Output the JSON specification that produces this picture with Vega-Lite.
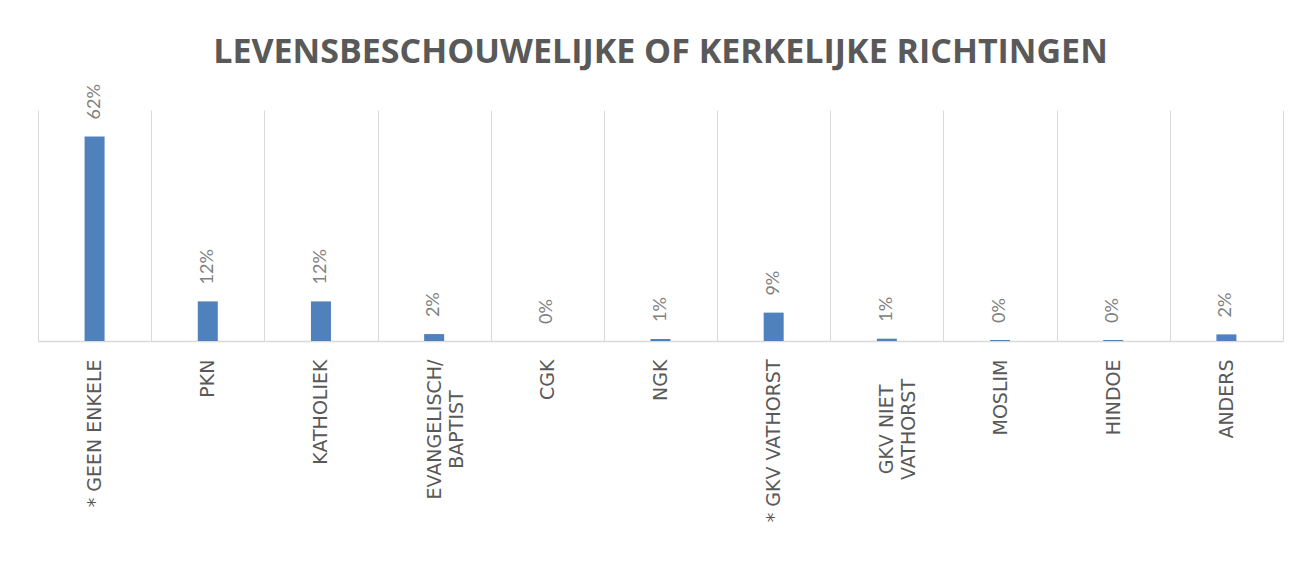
{
  "$schema": "https://vega.github.io/schema/vega-lite/v6.json",
  "width": 1245,
  "height": 231,
  "autosize": {"type": "none"},
  "padding": {"left": 38, "top": 110, "right": 15, "bottom": 223},
  "background": "white",
  "title": {
    "text": "LEVENSBESCHOUWELIJKE OF KERKELIJKE RICHTINGEN",
    "font": "Open Sans",
    "fontSize": 34,
    "fontWeight": "bold",
    "color": "#595959",
    "anchor": "middle",
    "frame": "group",
    "offset": 14
  },
  "config": {"view": {"stroke": null}},
  "data": {
    "values": [
      {"richting": "* GEEN ENKELE", "aandeel": 0.62},
      {"richting": "PKN", "aandeel": 0.12},
      {"richting": "KATHOLIEK", "aandeel": 0.12},
      {"richting": "EVANGELISCH/ BAPTIST", "aandeel": 0.021},
      {"richting": "CGK", "aandeel": 0.0},
      {"richting": "NGK", "aandeel": 0.006},
      {"richting": "* GKV VATHORST", "aandeel": 0.086},
      {"richting": "GKV NIET VATHORST", "aandeel": 0.007},
      {"richting": "MOSLIM", "aandeel": 0.003},
      {"richting": "HINDOE", "aandeel": 0.003},
      {"richting": "ANDERS", "aandeel": 0.02}
    ]
  },
  "encoding": {
    "x": {
      "field": "richting",
      "type": "nominal",
      "sort": null,
      "scale": {"paddingInner": 0, "paddingOuter": 0},
      "axis": {
        "title": null,
        "labelAngle": -90,
        "labelFont": "DejaVu Sans",
        "labelFontSize": 19,
        "labelColor": "#595959",
        "labelLineHeight": 22,
        "labelLimit": 400,
        "labelOverlap": false,
        "labelExpr": "datum.value == 'EVANGELISCH/ BAPTIST' ? ['EVANGELISCH/', 'BAPTIST'] : datum.value == 'GKV NIET VATHORST' ? ['GKV NIET', 'VATHORST'] : datum.value",
        "labelAlign": {"condition": {"test": "datum.value == 'EVANGELISCH/ BAPTIST' || datum.value == 'GKV NIET VATHORST'", "value": "center"}, "value": "right"},
        "labelPadding": {"condition": {"test": "datum.value == 'EVANGELISCH/ BAPTIST' || datum.value == 'GKV NIET VATHORST'", "value": 88}, "value": 18},
        "ticks": false,
        "tickSize": 0,
        "grid": true,
        "tickBand": "extent",
        "gridColor": "#d9d9d9",
        "gridWidth": 1,
        "domainColor": "#d9d9d9",
        "domainWidth": 1.5
      }
    }
  },
  "layer": [
    {
      "mark": {"type": "bar", "color": "#4F81BD", "width": 20},
      "encoding": {
        "y": {"field": "aandeel", "type": "quantitative", "scale": {"domain": [0, 0.7]}, "axis": null}
      }
    },
    {
      "mark": {"type": "text", "angle": 270, "align": "left", "baseline": "middle", "dx": 17, "font": "Lato", "fontSize": 18, "color": "#808080"},
      "encoding": {
        "y": {"field": "aandeel", "type": "quantitative"},
        "text": {"field": "aandeel", "type": "quantitative", "format": ".0%"}
      }
    }
  ]
}
